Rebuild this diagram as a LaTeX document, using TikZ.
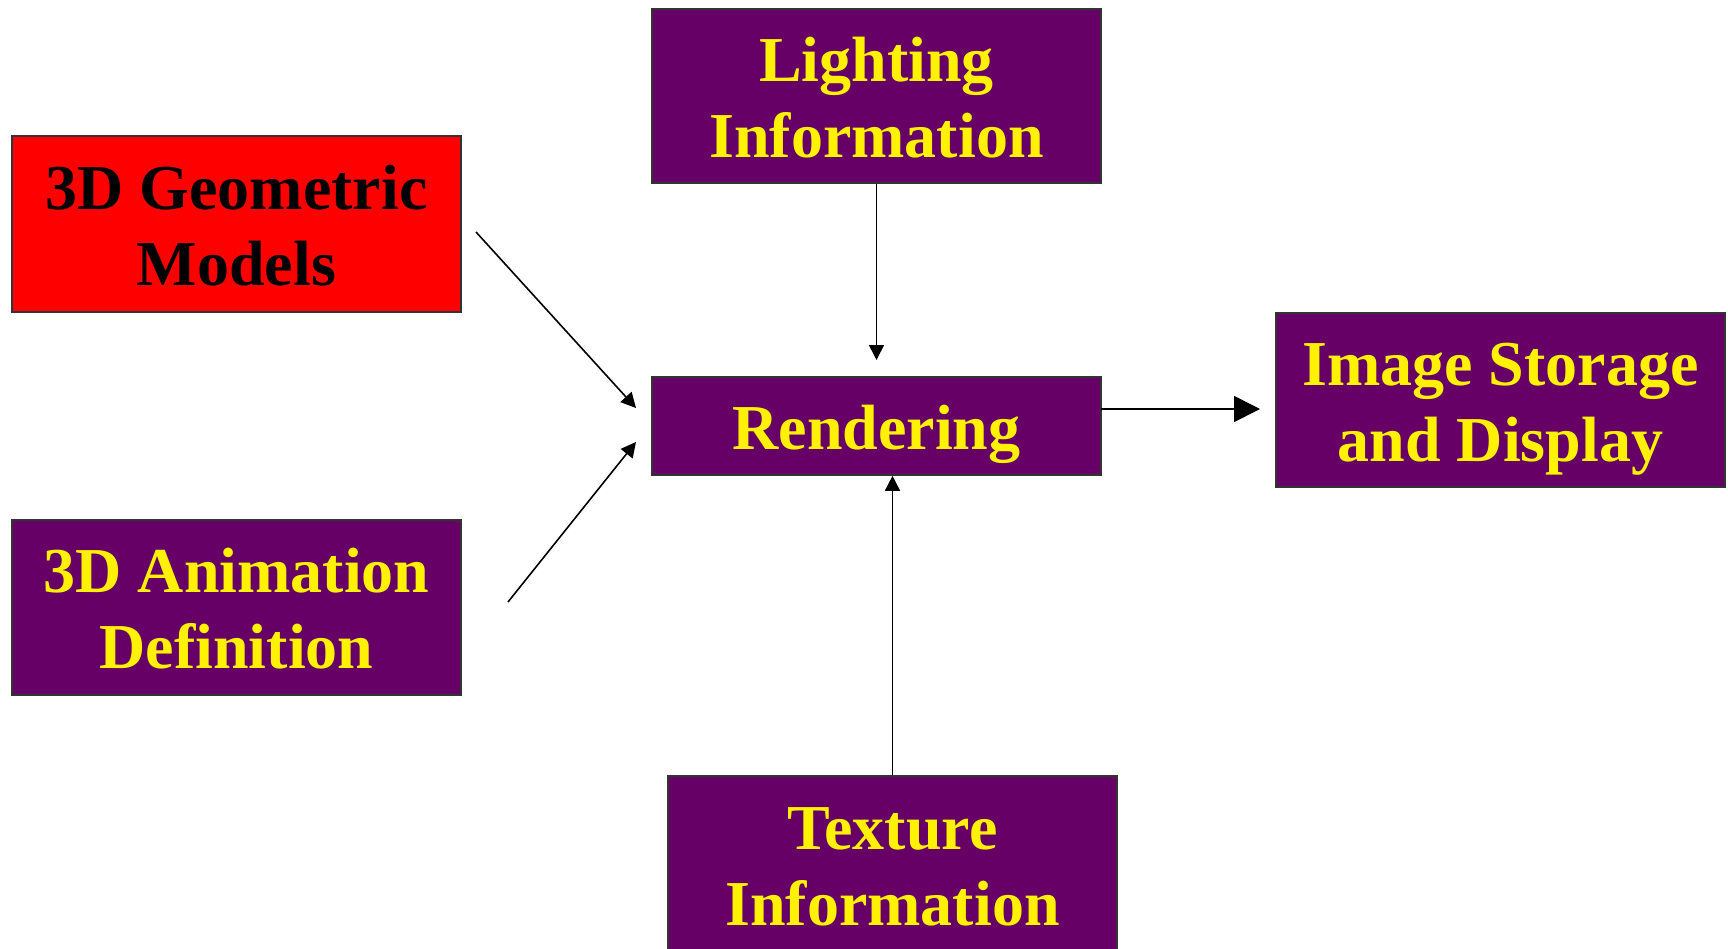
\documentclass[tikz,border=0pt]{standalone}
\usepackage{fontspec}
\setmainfont{Liberation Serif}
\usetikzlibrary{arrows.meta}
\definecolor{plum}{HTML}{660066}
\definecolor{edgegray}{HTML}{333333}
% fixed line extents so every label sits at the same height in its box
\newcommand\linetop{\rule{0pt}{66pt}}
\newcommand\linebot{\rule[-19.4pt]{0pt}{0pt}}
\begin{document}
\begin{tikzpicture}[x=1pt,y=-1pt,
  blk/.style={draw=edgegray,line width=1.6pt,fill=plum,text=yellow,
    inner sep=0pt,align=center,minimum width=449pt,
    font=\fontsize{64}{76}\selectfont\bfseries},
  link/.style={line width=1.6pt,-{Triangle[length=15pt,width=15pt]}},
  biglink/.style={line width=1.6pt,-{Triangle[length=26pt,width=26pt]}}]
\useasboundingbox (0,0) rectangle (1728,948);
\fill[white] (0,0) rectangle (1728,948);
% boxes
\node[blk,fill=red,text=black,minimum height=176pt] (geo) at (236.5,224) {\linetop 3D Geometric\\Models\linebot};
\node[blk,minimum height=175pt] (anim) at (236.5,607.5) {\linetop 3D Animation\\Definition\linebot};
\node[blk,minimum height=174pt] (light) at (876.5,96) {\linetop Lighting\\Information\linebot};
\node[blk,minimum height=98pt] (rend) at (876.5,426) {\linetop Rendering\linebot};
\node[blk,minimum height=174pt] (img) at (1500.5,400) {\linetop Image Storage\\and Display\linebot};
\node[blk,minimum height=177pt] (tex) at (892.5,864.5) {\linetop Texture\\Information\linebot};
% free ends of the connectors
\coordinate (geoStart) at (476,232);
\coordinate (geoEnd) at (636,408);
\coordinate (animStart) at (508,602);
\coordinate (animEnd) at (636,442);
\coordinate (lightEnd) at (876.5,360);
\coordinate (outStart) at (1101,409);
\coordinate (outEnd) at (1260,409);
% connectors
\draw[link] (geoStart) -- (geoEnd);
\draw[link] (animStart) -- (animEnd);
\draw[link] (light.south) -- (lightEnd);
\draw[link] (tex.north) -- (tex.north |- rend.south);
\draw[biglink] (outStart) -- (outEnd);
\end{tikzpicture}
\end{document}
